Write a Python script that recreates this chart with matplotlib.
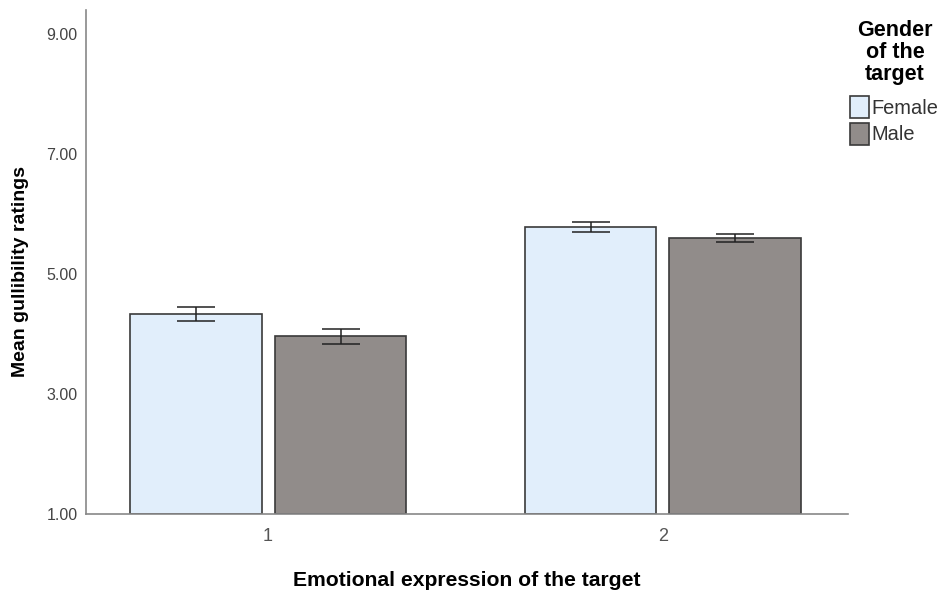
import numpy as np
import matplotlib.pyplot as plt
from matplotlib.patches import Patch

plt.rcParams['font.family'] = ['Liberation Sans', 'DejaVu Sans']

### DATA ###
groups = ["1", "2"]
female_means = [4.33, 5.78]
female_err = [0.12, 0.08]
male_means = [3.96, 5.60]
male_err = [0.12, 0.07]
y_ticks = [1, 3, 5, 7, 9]

female_color = "#e1eefb"
male_color = "#918c8a"
edge = "#3a3a3a"

fig = plt.figure(figsize=(9.42, 5.92), dpi=100)
ax = fig.add_axes([0.0913, 0.1318, 0.8087, 0.8512])

x = np.arange(1, len(groups) + 1)
w = 0.334
off = 0.1835

ax.bar(x - off, np.array(female_means) - 1, w, bottom=1, color=female_color,
       edgecolor=edge, linewidth=1.2, zorder=2)
ax.bar(x + off, np.array(male_means) - 1, w, bottom=1, color=male_color,
       edgecolor=edge, linewidth=1.2, zorder=2)
ax.errorbar(x - off, female_means, yerr=female_err, fmt="none", ecolor="#222222",
            elinewidth=1.1, capsize=13.5, capthick=1.1, zorder=3)
ax.errorbar(x + off, male_means, yerr=male_err, fmt="none", ecolor="#222222",
            elinewidth=1.1, capsize=13.5, capthick=1.1, zorder=3)

ax.set_xlim(0.539, 2.468)
ax.set_ylim(1, 9.4)
ax.set_yticks(y_ticks)
ax.set_yticklabels([f"{v:.2f}" for v in y_ticks], fontsize=11.5, color="#444444")
ax.set_xticks(x)
ax.set_xticklabels(groups, fontsize=13, color="#555555")
ax.tick_params(axis="both", length=0)
ax.tick_params(axis="x", pad=10)
ax.tick_params(axis="y", pad=6)

for s in ["top", "right"]:
    ax.spines[s].set_visible(False)
for s in ["left", "bottom"]:
    ax.spines[s].set_color("#888888")
    ax.spines[s].set_linewidth(1.2)

ax.set_ylabel("Mean gullibility ratings", fontsize=14, fontweight="bold")
ax.yaxis.set_label_coords(-0.075, 0.482)
ax.set_xlabel("Emotional expression of the target", fontsize=15.2, fontweight="bold",
              labelpad=19)

# legend title drawn separately so its spacing can follow the reference
fig.text(895 / 942, 1 - 20 / 592, "Gender\nof the\ntarget", ha="center", va="top",
         fontsize=15.5, fontweight="bold", linespacing=1.06)
handles = [Patch(facecolor=female_color, edgecolor=edge, linewidth=1.2, label="Female"),
           Patch(facecolor=male_color, edgecolor=edge, linewidth=1.2, label="Male")]
leg = fig.legend(handles=handles, loc="upper left",
                 bbox_to_anchor=(850 / 942, 1 - 96 / 592), frameon=False, fontsize=14.4,
                 handlelength=0.93, handleheight=1.3, handletextpad=0.12,
                 labelspacing=0.25, borderaxespad=0, borderpad=0)
for t in leg.get_texts():
    t.set_color("#333333")

fig.savefig("out.png", dpi=100)
